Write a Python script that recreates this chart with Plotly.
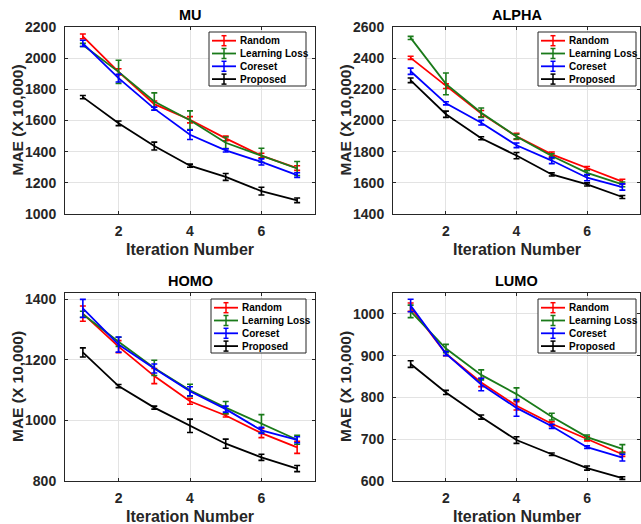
import plotly.graph_objects as go

W, H = 641, 524
iters = [1, 2, 3, 4, 5, 6, 7]
methods = ["Random", "Learning Loss", "Coreset", "Proposed"]
colors = ["#ff0000", "#1a7a1a", "#0000ff", "#000000"]

# MU
mu_random = [2140, 1912, 1705, 1605, 1485, 1375, 1295]
mu_random_err = [15, 20, 20, 20, 15, 15, 15]
mu_ll = [2085, 1912, 1722, 1602, 1457, 1377, 1292]
mu_ll_err = [10, 75, 55, 60, 37, 45, 45]
mu_coreset = [2095, 1872, 1676, 1508, 1408, 1334, 1250]
mu_coreset_err = [20, 25, 10, 30, 10, 20, 15]
mu_proposed = [1750, 1582, 1436, 1310, 1238, 1147, 1088]
mu_proposed_err = [10, 15, 25, 10, 22, 25, 15]

# ALPHA
alpha_random = [2402, 2220, 2044, 1898, 1783, 1695, 1608]
alpha_random_err = [10, 15, 20, 20, 15, 10, 15]
alpha_ll = [2530, 2235, 2050, 1897, 1772, 1664, 1590]
alpha_ll_err = [10, 70, 30, 15, 15, 15, 15]
alpha_coreset = [2316, 2110, 1986, 1841, 1743, 1633, 1573]
alpha_coreset_err = [20, 10, 15, 15, 20, 20, 20]
alpha_proposed = [2258, 2040, 1886, 1775, 1654, 1590, 1509]
alpha_proposed_err = [15, 20, 10, 20, 10, 10, 10]

# HOMO
homo_random = [1352, 1243, 1146, 1063, 1016, 958, 911]
homo_random_err = [25, 20, 25, 10, 5, 15, 20]
homo_ll = [1350, 1259, 1173, 1099, 1042, 989, 936]
homo_ll_err = [10, 15, 25, 20, 20, 30, 15]
homo_coreset = [1369, 1250, 1171, 1096, 1037, 967, 936]
homo_coreset_err = [30, 25, 15, 15, 10, 10, 10]
homo_proposed = [1224, 1113, 1042, 982, 923, 878, 841]
homo_proposed_err = [15, 5, 5, 22, 15, 10, 10]

# LUMO
lumo_random = [1016, 905, 836, 780, 737, 701, 664]
lumo_random_err = [10, 5, 10, 10, 5, 5, 5]
lumo_ll = [1006, 917, 854, 808, 754, 705, 677]
lumo_ll_err = [15, 10, 12, 15, 8, 5, 10]
lumo_coreset = [1020, 905, 831, 775, 731, 681, 656]
lumo_coreset_err = [15, 5, 15, 20, 5, 3, 8]
lumo_proposed = [880, 812, 753, 698, 664, 631, 607]
lumo_proposed_err = [8, 5, 5, 8, 3, 5, 3]

panel_titles = ["MU", "ALPHA", "HOMO", "LUMO"]
panel_values = [
    [mu_random, mu_ll, mu_coreset, mu_proposed],
    [alpha_random, alpha_ll, alpha_coreset, alpha_proposed],
    [homo_random, homo_ll, homo_coreset, homo_proposed],
    [lumo_random, lumo_ll, lumo_coreset, lumo_proposed],
]
panel_errors = [
    [mu_random_err, mu_ll_err, mu_coreset_err, mu_proposed_err],
    [alpha_random_err, alpha_ll_err, alpha_coreset_err, alpha_proposed_err],
    [homo_random_err, homo_ll_err, homo_coreset_err, homo_proposed_err],
    [lumo_random_err, lumo_ll_err, lumo_coreset_err, lumo_proposed_err],
]
panel_yranges = [[1000, 2200], [1400, 2600], [800, 1420], [600, 1050]]
panel_yticks = [
    [1000, 1200, 1400, 1600, 1800, 2000, 2200],
    [1400, 1600, 1800, 2000, 2200, 2400, 2600],
    [800, 1000, 1200, 1400],
    [600, 700, 800, 900, 1000],
]
x_ticks = [2, 4, 6]

# pixel boxes: axes (left, right, top, bottom) and legend (left, right, top, bottom)
axes_px = [(65, 315, 27, 214), (393, 640, 27, 214), (65, 315, 293, 481), (393, 640, 293, 481)]
legend_px = [(209, 306, 32, 86), (538, 636, 32, 86), (211, 306, 299, 353), (538, 636, 299, 353)]

FONT = "Liberation Sans"
AX = "#262626"


def px(x):
    return x / W


def py(y):
    return 1 - y / H


fig = go.Figure()
layout = dict(width=W, height=H, margin=dict(l=0, r=0, t=0, b=0, autoexpand=False),
              paper_bgcolor="white", plot_bgcolor="white", showlegend=False,
              font=dict(family=FONT, color=AX))
annotations = []
shapes = []
for i in range(4):
    n = i + 1
    x0, x1, y0, y1 = axes_px[i]
    xa = "x" if n == 1 else f"x{n}"
    ya = "y" if n == 1 else f"y{n}"
    for m, col, y, e in zip(methods, colors, panel_values[i], panel_errors[i]):
        fig.add_trace(go.Scatter(
            x=iters, y=y, mode="lines", name=m, xaxis=xa, yaxis=ya, showlegend=False,
            line=dict(color=col, width=1.8),
            error_y=dict(type="data", array=e, visible=True, color=col, thickness=1.6, width=3)))
    axis_common = dict(showline=True, linecolor=AX, linewidth=1, mirror="ticks",
                       ticks="inside", ticklen=3, tickcolor=AX, showgrid=True,
                       gridcolor="#e3e3e3", gridwidth=1, zeroline=False, automargin=False,
                       tickfont=dict(family=FONT, size=14, color=AX, weight="bold"))
    layout["xaxis" if n == 1 else f"xaxis{n}"] = dict(
        axis_common, domain=[px(x0), px(x1)], range=[0.5, 7.5], tickvals=x_ticks,
        anchor=ya, ticklabelstandoff=4)
    layout["yaxis" if n == 1 else f"yaxis{n}"] = dict(
        axis_common, domain=[py(y1), py(y0)], range=panel_yranges[i], tickvals=panel_yticks[i],
        anchor=xa, ticklabelstandoff=5)
    # titles
    annotations.append(dict(text=panel_titles[i], x=px((x0 + x1) / 2), y=py(y0 - 12),
                            xref="paper", yref="paper", showarrow=False,
                            font=dict(family=FONT, size=14.5, color="#000000", weight="bold"),
                            xanchor="center", yanchor="middle"))
    annotations.append(dict(text="Iteration Number", x=px((x0 + x1) / 2), y=py(y1 + 35),
                            xref="paper", yref="paper", showarrow=False,
                            font=dict(family=FONT, size=16, color=AX, weight="bold"),
                            xanchor="center", yanchor="middle"))
    annotations.append(dict(text="MAE (X 10,000)", x=px(x0 - 48), y=py((y0 + y1) / 2),
                            xref="paper", yref="paper", showarrow=False, textangle=-90,
                            font=dict(family=FONT, size=15.5, color=AX, weight="bold"),
                            xanchor="center", yanchor="middle"))
    # custom legend
    lx0, lx1, ly0, ly1 = legend_px[i]
    shapes.append(dict(type="rect", xref="paper", yref="paper", x0=px(lx0), x1=px(lx1),
                       y0=py(ly1), y1=py(ly0), line=dict(color=AX, width=1), fillcolor="white",
                       layer="above"))
    for k, (m, col) in enumerate(zip(methods, colors)):
        ry = ly0 + 8.7 + 12.8 * k
        shapes.append(dict(type="line", xref="paper", yref="paper", x0=px(lx0 + 3), x1=px(lx0 + 27),
                           y0=py(ry), y1=py(ry), line=dict(color=col, width=1.8), layer="above"))
        shapes.append(dict(type="line", xref="paper", yref="paper", x0=px(lx0 + 15), x1=px(lx0 + 15),
                           y0=py(ry - 5), y1=py(ry + 5), line=dict(color=col, width=1.5), layer="above"))
        for dy in (-5, 5):
            shapes.append(dict(type="line", xref="paper", yref="paper", x0=px(lx0 + 12.5), x1=px(lx0 + 17.5),
                               y0=py(ry + dy), y1=py(ry + dy), line=dict(color=col, width=1.5), layer="above"))
        annotations.append(dict(text=m, x=px(lx0 + 29), y=py(ry), xref="paper", yref="paper",
                                showarrow=False, xanchor="left", yanchor="middle",
                                font=dict(family=FONT, size=10, color="#000000", weight="bold")))
layout["annotations"] = annotations
layout["shapes"] = shapes
fig.update_layout(**layout)
fig.write_html("out.html", config={"displayModeBar": False},
               post_script="document.body.style.margin='0';document.body.style.padding='0';"
                           "document.documentElement.style.overflow='hidden';")
